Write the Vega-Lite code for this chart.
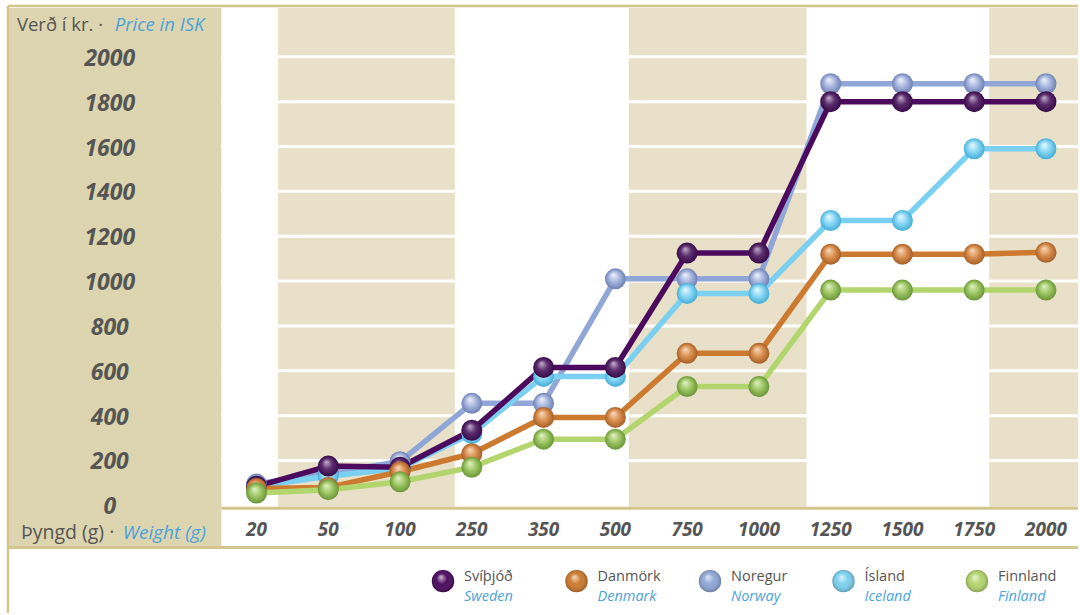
{
  "$schema": "https://vega.github.io/schema/vega-lite/v6.json",
  "width": 1080,
  "height": 615,
  "autosize": {"type": "fit", "contains": "padding"},
  "padding": 0,
  "background": "white",
  "config": {"view": {"stroke": null}, "axis": {"disable": true}, "legend": {"disable": true}},
  "datasets": {
    "post": [
      {"country": "Norway", "weight": "20", "i": 0, "price": 95},
      {"country": "Norway", "weight": "50", "i": 1, "price": 145},
      {"country": "Norway", "weight": "100", "i": 2, "price": 195},
      {"country": "Norway", "weight": "250", "i": 3, "price": 455},
      {"country": "Norway", "weight": "350", "i": 4, "price": 455},
      {"country": "Norway", "weight": "500", "i": 5, "price": 1010},
      {"country": "Norway", "weight": "750", "i": 6, "price": 1010},
      {"country": "Norway", "weight": "1000", "i": 7, "price": 1010},
      {"country": "Norway", "weight": "1250", "i": 8, "price": 1880},
      {"country": "Norway", "weight": "1500", "i": 9, "price": 1880},
      {"country": "Norway", "weight": "1750", "i": 10, "price": 1880},
      {"country": "Norway", "weight": "2000", "i": 11, "price": 1880},
      {"country": "Iceland", "weight": "20", "i": 0, "price": 85},
      {"country": "Iceland", "weight": "50", "i": 1, "price": 130},
      {"country": "Iceland", "weight": "100", "i": 2, "price": 165},
      {"country": "Iceland", "weight": "250", "i": 3, "price": 320},
      {"country": "Iceland", "weight": "350", "i": 4, "price": 575},
      {"country": "Iceland", "weight": "500", "i": 5, "price": 575},
      {"country": "Iceland", "weight": "750", "i": 6, "price": 945},
      {"country": "Iceland", "weight": "1000", "i": 7, "price": 945},
      {"country": "Iceland", "weight": "1250", "i": 8, "price": 1270},
      {"country": "Iceland", "weight": "1500", "i": 9, "price": 1270},
      {"country": "Iceland", "weight": "1750", "i": 10, "price": 1590},
      {"country": "Iceland", "weight": "2000", "i": 11, "price": 1590},
      {"country": "Sweden", "weight": "20", "i": 0, "price": 85},
      {"country": "Sweden", "weight": "50", "i": 1, "price": 175},
      {"country": "Sweden", "weight": "100", "i": 2, "price": 170},
      {"country": "Sweden", "weight": "250", "i": 3, "price": 335},
      {"country": "Sweden", "weight": "350", "i": 4, "price": 615},
      {"country": "Sweden", "weight": "500", "i": 5, "price": 615},
      {"country": "Sweden", "weight": "750", "i": 6, "price": 1125},
      {"country": "Sweden", "weight": "1000", "i": 7, "price": 1125},
      {"country": "Sweden", "weight": "1250", "i": 8, "price": 1800},
      {"country": "Sweden", "weight": "1500", "i": 9, "price": 1800},
      {"country": "Sweden", "weight": "1750", "i": 10, "price": 1800},
      {"country": "Sweden", "weight": "2000", "i": 11, "price": 1800},
      {"country": "Denmark", "weight": "20", "i": 0, "price": 75},
      {"country": "Denmark", "weight": "50", "i": 1, "price": 80},
      {"country": "Denmark", "weight": "100", "i": 2, "price": 150},
      {"country": "Denmark", "weight": "250", "i": 3, "price": 230},
      {"country": "Denmark", "weight": "350", "i": 4, "price": 392},
      {"country": "Denmark", "weight": "500", "i": 5, "price": 392},
      {"country": "Denmark", "weight": "750", "i": 6, "price": 678},
      {"country": "Denmark", "weight": "1000", "i": 7, "price": 678},
      {"country": "Denmark", "weight": "1250", "i": 8, "price": 1120},
      {"country": "Denmark", "weight": "1500", "i": 9, "price": 1120},
      {"country": "Denmark", "weight": "1750", "i": 10, "price": 1120},
      {"country": "Denmark", "weight": "2000", "i": 11, "price": 1128},
      {"country": "Finland", "weight": "20", "i": 0, "price": 55},
      {"country": "Finland", "weight": "50", "i": 1, "price": 70},
      {"country": "Finland", "weight": "100", "i": 2, "price": 105},
      {"country": "Finland", "weight": "250", "i": 3, "price": 170},
      {"country": "Finland", "weight": "350", "i": 4, "price": 295},
      {"country": "Finland", "weight": "500", "i": 5, "price": 295},
      {"country": "Finland", "weight": "750", "i": 6, "price": 530},
      {"country": "Finland", "weight": "1000", "i": 7, "price": 530},
      {"country": "Finland", "weight": "1250", "i": 8, "price": 960},
      {"country": "Finland", "weight": "1500", "i": 9, "price": 960},
      {"country": "Finland", "weight": "1750", "i": 10, "price": 960},
      {"country": "Finland", "weight": "2000", "i": 11, "price": 960}
    ],
    "ticks": [
      {"v": 0}, {"v": 200}, {"v": 400}, {"v": 600}, {"v": 800}, {"v": 1000},
      {"v": 1200}, {"v": 1400}, {"v": 1600}, {"v": 1800}, {"v": 2000}
    ],
    "countries": [
      {"country": "Sweden", "is": "Svíþjóð", "en": "Sweden"},
      {"country": "Denmark", "is": "Danmörk", "en": "Denmark"},
      {"country": "Norway", "is": "Noregur", "en": "Norway"},
      {"country": "Iceland", "is": "Ísland", "en": "Iceland"},
      {"country": "Finland", "is": "Finnland", "en": "Finland"}
    ]
  },
  "resolve": {"scale": {"x": "independent"}},
  "layer": [
    {
      "layer": [
        {
          "data": {"values": [{}]},
          "mark": {"type": "rect", "color": "#ddd5b0"},
          "encoding": {
            "x": {"datum": -3.449, "type": "quantitative", "scale": {"domain": [-3.574, 11.446], "nice": false, "zero": false}},
            "x2": {"datum": -0.49},
            "y": {"datum": 2217.8, "type": "quantitative", "scale": {"domain": [-480, 2253.3], "nice": false, "zero": false}},
            "y2": {"datum": -191}
          }
        },
        {
          "data": {"values": [{}]},
          "mark": {"type": "rect", "color": "#e8e0c8"},
          "encoding": {
            "x": {"datum": 0.301, "type": "quantitative", "scale": {"domain": [-3.574, 11.446], "nice": false, "zero": false}},
            "x2": {"datum": 2.764},
            "y": {"datum": 2217.8, "type": "quantitative", "scale": {"domain": [-480, 2253.3], "nice": false, "zero": false}},
            "y2": {"datum": -6}
          }
        },
        {
          "data": {"values": [{}]},
          "mark": {"type": "rect", "color": "#e8e0c8"},
          "encoding": {
            "x": {"datum": 5.188, "type": "quantitative", "scale": {"domain": [-3.574, 11.446], "nice": false, "zero": false}},
            "x2": {"datum": 7.663},
            "y": {"datum": 2217.8, "type": "quantitative", "scale": {"domain": [-480, 2253.3], "nice": false, "zero": false}},
            "y2": {"datum": -6}
          }
        },
        {
          "data": {"values": [{}]},
          "mark": {"type": "rect", "color": "#e8e0c8"},
          "encoding": {
            "x": {"datum": 10.209, "type": "quantitative", "scale": {"domain": [-3.574, 11.446], "nice": false, "zero": false}},
            "x2": {"datum": 11.446},
            "y": {"datum": 2217.8, "type": "quantitative", "scale": {"domain": [-480, 2253.3], "nice": false, "zero": false}},
            "y2": {"datum": -6}
          }
        },
        {
          "data": {"name": "ticks"},
          "transform": [{"filter": "datum.v > 0"}],
          "mark": {"type": "rule", "color": "white", "strokeWidth": 3},
          "encoding": {
            "x": {"datum": -0.49, "type": "quantitative", "scale": {"domain": [-3.574, 11.446], "nice": false, "zero": false}},
            "x2": {"datum": 11.446},
            "y": {"field": "v", "type": "quantitative", "scale": {"domain": [-480, 2253.3], "nice": false, "zero": false}}
          }
        },
        {
          "data": {"values": [{}]},
          "mark": {"type": "rule", "color": "#d3c68c", "strokeWidth": 2.5},
          "encoding": {
            "x": {"datum": -3.463, "type": "quantitative", "scale": {"domain": [-3.574, 11.446], "nice": false, "zero": false}},
            "x2": {"datum": 11.446},
            "y": {"datum": 2226.7, "type": "quantitative", "scale": {"domain": [-480, 2253.3], "nice": false, "zero": false}}
          }
        },
        {
          "data": {"values": [{}]},
          "mark": {"type": "rule", "color": "#d3c68c", "strokeWidth": 3},
          "encoding": {
            "x": {"datum": -0.49, "type": "quantitative", "scale": {"domain": [-3.574, 11.446], "nice": false, "zero": false}},
            "x2": {"datum": 11.446},
            "y": {"datum": -13.3, "type": "quantitative", "scale": {"domain": [-480, 2253.3], "nice": false, "zero": false}}
          }
        },
        {
          "data": {"values": [{}]},
          "mark": {"type": "rule", "color": "#d3c68c", "strokeWidth": 3},
          "encoding": {
            "x": {"datum": -3.463, "type": "quantitative", "scale": {"domain": [-3.574, 11.446], "nice": false, "zero": false}},
            "x2": {"datum": 11.446},
            "y": {"datum": -188, "type": "quantitative", "scale": {"domain": [-480, 2253.3], "nice": false, "zero": false}}
          }
        },
        {
          "data": {"values": [{}]},
          "mark": {"type": "rule", "color": "#d3c68c", "strokeWidth": 2.5},
          "encoding": {
            "x": {"datum": -3.463, "type": "quantitative", "scale": {"domain": [-3.574, 11.446], "nice": false, "zero": false}},
            "y": {"datum": 2226.7, "type": "quantitative", "scale": {"domain": [-480, 2253.3], "nice": false, "zero": false}},
            "y2": {"datum": -480}
          }
        },
        {
          "data": {"name": "post"},
          "mark": {"type": "line", "strokeWidth": 5.5, "strokeJoin": "round", "strokeCap": "round"},
          "encoding": {
            "x": {"field": "i", "type": "quantitative", "scale": {"domain": [-3.574, 11.446], "nice": false, "zero": false}},
            "y": {"field": "price", "type": "quantitative", "scale": {"domain": [-480, 2253.3], "nice": false, "zero": false}},
            "color": {"field": "country", "type": "nominal", "legend": null, "scale": {"domain": ["Sweden", "Denmark", "Norway", "Iceland", "Finland"], "range": ["#4b0a5e", "#cc7a2f", "#8fa6d6", "#7bd0f1", "#b3d56d"]}}
          }
        },
        {
          "data": {"name": "post"},
          "transform": [{"filter": "datum.country == 'Norway'"}],
          "mark": {"type": "point", "shape": "circle", "filled": true, "size": 440, "opacity": 1, "strokeWidth": 0,
            "fill": {"gradient": "radial", "x1": 0.4, "y1": 0.3, "r1": 0, "x2": 0.5, "y2": 0.5, "r2": 0.5,
              "stops": [{"offset": 0, "color": "#f0f4fc"}, {"offset": 0.55, "color": "#a3b3dd"}, {"offset": 1, "color": "#6f80b3"}]}},
          "encoding": {
            "x": {"field": "i", "type": "quantitative", "scale": {"domain": [-3.574, 11.446], "nice": false, "zero": false}},
            "y": {"field": "price", "type": "quantitative", "scale": {"domain": [-480, 2253.3], "nice": false, "zero": false}}
          }
        },
        {
          "data": {"name": "post"},
          "transform": [{"filter": "datum.country == 'Iceland'"}],
          "mark": {"type": "point", "shape": "circle", "filled": true, "size": 440, "opacity": 1, "strokeWidth": 0,
            "fill": {"gradient": "radial", "x1": 0.4, "y1": 0.3, "r1": 0, "x2": 0.5, "y2": 0.5, "r2": 0.5,
              "stops": [{"offset": 0, "color": "#eafafe"}, {"offset": 0.55, "color": "#86d5f3"}, {"offset": 1, "color": "#45aed8"}]}},
          "encoding": {
            "x": {"field": "i", "type": "quantitative", "scale": {"domain": [-3.574, 11.446], "nice": false, "zero": false}},
            "y": {"field": "price", "type": "quantitative", "scale": {"domain": [-480, 2253.3], "nice": false, "zero": false}}
          }
        },
        {
          "data": {"name": "post"},
          "transform": [{"filter": "datum.country == 'Sweden'"}],
          "mark": {"type": "point", "shape": "circle", "filled": true, "size": 440, "opacity": 1, "strokeWidth": 0,
            "fill": {"gradient": "radial", "x1": 0.4, "y1": 0.3, "r1": 0, "x2": 0.5, "y2": 0.5, "r2": 0.5,
              "stops": [{"offset": 0, "color": "#c7b2cf"}, {"offset": 0.5, "color": "#5c2e6e"}, {"offset": 1, "color": "#380a48"}]}},
          "encoding": {
            "x": {"field": "i", "type": "quantitative", "scale": {"domain": [-3.574, 11.446], "nice": false, "zero": false}},
            "y": {"field": "price", "type": "quantitative", "scale": {"domain": [-480, 2253.3], "nice": false, "zero": false}}
          }
        },
        {
          "data": {"name": "post"},
          "transform": [{"filter": "datum.country == 'Denmark'"}],
          "mark": {"type": "point", "shape": "circle", "filled": true, "size": 440, "opacity": 1, "strokeWidth": 0,
            "fill": {"gradient": "radial", "x1": 0.4, "y1": 0.3, "r1": 0, "x2": 0.5, "y2": 0.5, "r2": 0.5,
              "stops": [{"offset": 0, "color": "#f8dcc2"}, {"offset": 0.55, "color": "#d98d4c"}, {"offset": 1, "color": "#a55f28"}]}},
          "encoding": {
            "x": {"field": "i", "type": "quantitative", "scale": {"domain": [-3.574, 11.446], "nice": false, "zero": false}},
            "y": {"field": "price", "type": "quantitative", "scale": {"domain": [-480, 2253.3], "nice": false, "zero": false}}
          }
        },
        {
          "data": {"name": "post"},
          "transform": [{"filter": "datum.country == 'Finland'"}],
          "mark": {"type": "point", "shape": "circle", "filled": true, "size": 440, "opacity": 1, "strokeWidth": 0,
            "fill": {"gradient": "radial", "x1": 0.4, "y1": 0.3, "r1": 0, "x2": 0.5, "y2": 0.5, "r2": 0.5,
              "stops": [{"offset": 0, "color": "#e4f3c9"}, {"offset": 0.55, "color": "#9cc562"}, {"offset": 1, "color": "#6b9639"}]}},
          "encoding": {
            "x": {"field": "i", "type": "quantitative", "scale": {"domain": [-3.574, 11.446], "nice": false, "zero": false}},
            "y": {"field": "price", "type": "quantitative", "scale": {"domain": [-480, 2253.3], "nice": false, "zero": false}}
          }
        },
        {
          "data": {"name": "ticks"},
          "mark": {"type": "text", "font": "Open Sans", "fontSize": 23, "fontStyle": "italic", "fontWeight": "bold", "color": "#555555", "align": "center", "baseline": "middle", "dy": 2},
          "encoding": {
            "x": {"datum": -2.045, "type": "quantitative", "scale": {"domain": [-3.574, 11.446], "nice": false, "zero": false}},
            "y": {"field": "v", "type": "quantitative", "scale": {"domain": [-480, 2253.3], "nice": false, "zero": false}},
            "text": {"field": "v", "type": "quantitative", "format": "d"}
          }
        },
        {
          "data": {"name": "post"},
          "transform": [{"filter": "datum.country == 'Sweden'"}],
          "mark": {"type": "text", "font": "Open Sans", "fontSize": 19, "fontStyle": "italic", "fontWeight": "bold", "color": "#555555", "align": "center", "baseline": "middle"},
          "encoding": {
            "x": {"field": "i", "type": "quantitative", "scale": {"domain": [-3.574, 11.446], "nice": false, "zero": false}},
            "y": {"datum": -111, "type": "quantitative", "scale": {"domain": [-480, 2253.3], "nice": false, "zero": false}},
            "text": {"field": "weight"}
          }
        },
        {
          "data": {"values": [{}]},
          "mark": {"type": "text", "text": "Verð í kr. ·", "font": "Open Sans", "fontSize": 18.5, "color": "#555555", "align": "left", "baseline": "middle"},
          "encoding": {
            "x": {"datum": -3.338, "type": "quantitative", "scale": {"domain": [-3.574, 11.446], "nice": false, "zero": false}},
            "y": {"datum": 2142, "type": "quantitative", "scale": {"domain": [-480, 2253.3], "nice": false, "zero": false}}
          }
        },
        {
          "data": {"values": [{}]},
          "mark": {"type": "text", "text": "Price in ISK", "font": "Open Sans", "fontSize": 18.5, "fontStyle": "italic", "color": "#4aa3dc", "align": "left", "baseline": "middle"},
          "encoding": {
            "x": {"datum": -1.975, "type": "quantitative", "scale": {"domain": [-3.574, 11.446], "nice": false, "zero": false}},
            "y": {"datum": 2142, "type": "quantitative", "scale": {"domain": [-480, 2253.3], "nice": false, "zero": false}}
          }
        },
        {
          "data": {"values": [{}]},
          "mark": {"type": "text", "text": "Þyngd (g) ·", "font": "Open Sans", "fontSize": 19.5, "color": "#555555", "align": "left", "baseline": "middle"},
          "encoding": {
            "x": {"datum": -3.282, "type": "quantitative", "scale": {"domain": [-3.574, 11.446], "nice": false, "zero": false}},
            "y": {"datum": -124, "type": "quantitative", "scale": {"domain": [-480, 2253.3], "nice": false, "zero": false}}
          }
        },
        {
          "data": {"values": [{}]},
          "mark": {"type": "text", "text": "Weight (g)", "font": "Open Sans", "fontSize": 19, "fontStyle": "italic", "color": "#4aa3dc", "align": "left", "baseline": "middle"},
          "encoding": {
            "x": {"datum": -1.864, "type": "quantitative", "scale": {"domain": [-3.574, 11.446], "nice": false, "zero": false}},
            "y": {"datum": -124, "type": "quantitative", "scale": {"domain": [-480, 2253.3], "nice": false, "zero": false}}
          }
        }
      ]
    },
    {
      "data": {"name": "countries"},
      "layer": [
        {
          "mark": {"type": "point", "shape": "circle", "filled": true, "size": 500, "opacity": 1, "strokeWidth": 0},
          "encoding": {
            "x": {"field": "country", "type": "nominal", "sort": null, "scale": {"type": "point", "padding": 0, "domain": ["Sweden", "Denmark", "Norway", "Iceland", "Finland"], "range": [443, 977]}},
            "y": {"datum": -338, "type": "quantitative", "scale": {"domain": [-480, 2253.3], "nice": false, "zero": false}},
            "color": {"field": "country", "type": "nominal", "legend": null, "scale": {"domain": ["Sweden", "Denmark", "Norway", "Iceland", "Finland"], "range": ["#5a2a6c", "#d5863f", "#9fb0dc", "#84d4f3", "#9cc562"]}}
          }
        },
        {
          "mark": {"type": "point", "shape": "circle", "filled": true, "size": 500, "opacity": 1, "strokeWidth": 0,
            "fill": {"gradient": "radial", "x1": 0.4, "y1": 0.3, "r1": 0, "x2": 0.5, "y2": 0.5, "r2": 0.5,
              "stops": [{"offset": 0, "color": "rgba(255,255,255,0.75)"}, {"offset": 0.5, "color": "rgba(255,255,255,0)"}, {"offset": 1, "color": "rgba(0,0,0,0.25)"}]}},
          "encoding": {
            "x": {"field": "country", "type": "nominal", "sort": null, "scale": {"type": "point", "padding": 0, "domain": ["Sweden", "Denmark", "Norway", "Iceland", "Finland"], "range": [443, 977]}},
            "y": {"datum": -338, "type": "quantitative", "scale": {"domain": [-480, 2253.3], "nice": false, "zero": false}}
          }
        },
        {
          "mark": {"type": "text", "font": "Open Sans", "fontSize": 14.5, "color": "#555555", "align": "left", "baseline": "middle", "dx": 21},
          "encoding": {
            "x": {"field": "country", "type": "nominal", "sort": null, "scale": {"type": "point", "padding": 0, "domain": ["Sweden", "Denmark", "Norway", "Iceland", "Finland"], "range": [443, 977]}},
            "y": {"datum": -318, "type": "quantitative", "scale": {"domain": [-480, 2253.3], "nice": false, "zero": false}},
            "text": {"field": "is"}
          }
        },
        {
          "mark": {"type": "text", "font": "Open Sans", "fontSize": 14.5, "fontStyle": "italic", "color": "#4aa3dc", "align": "left", "baseline": "middle", "dx": 21},
          "encoding": {
            "x": {"field": "country", "type": "nominal", "sort": null, "scale": {"type": "point", "padding": 0, "domain": ["Sweden", "Denmark", "Norway", "Iceland", "Finland"], "range": [443, 977]}},
            "y": {"datum": -407, "type": "quantitative", "scale": {"domain": [-480, 2253.3], "nice": false, "zero": false}},
            "text": {"field": "en"}
          }
        }
      ]
    }
  ]
}
